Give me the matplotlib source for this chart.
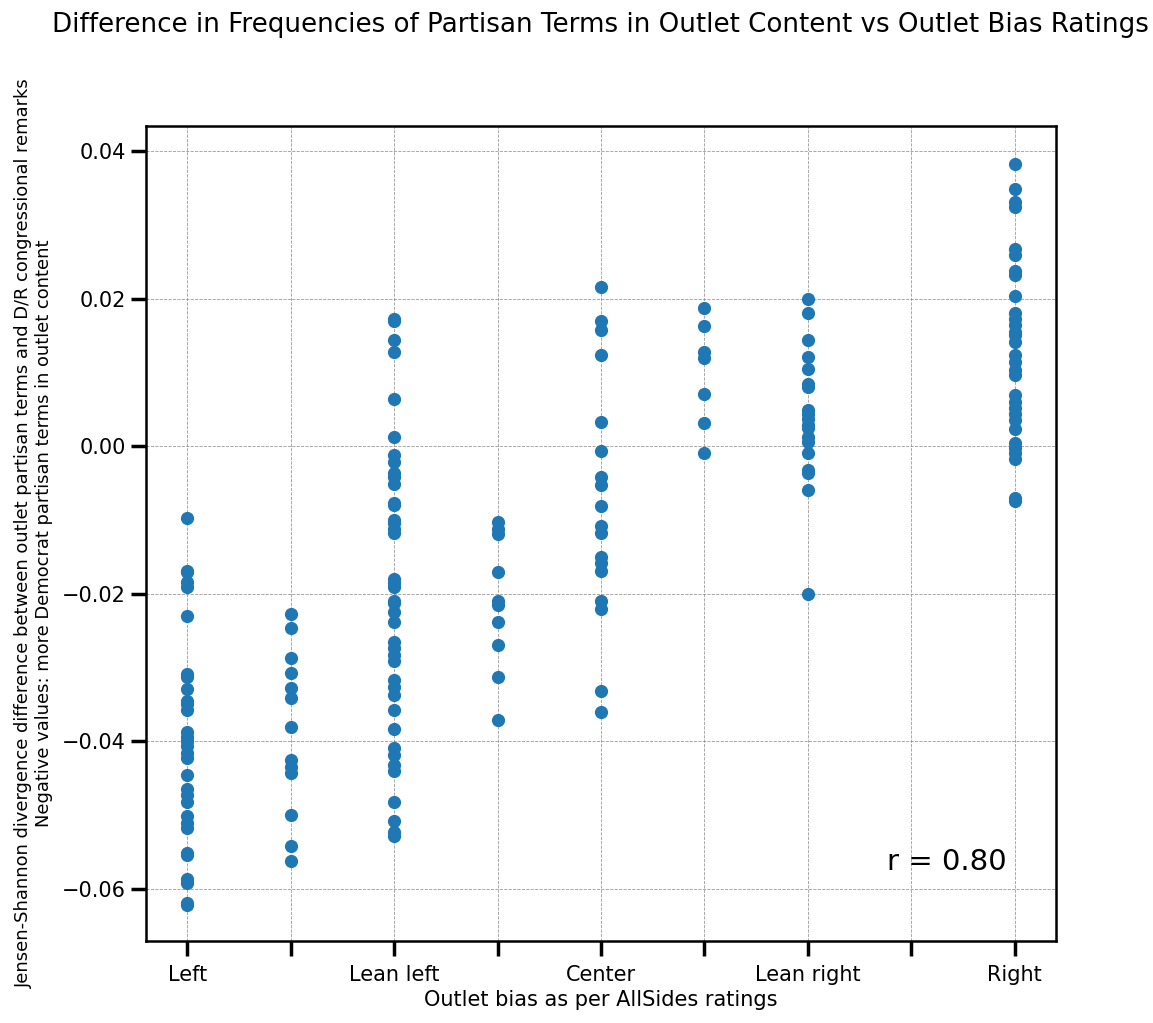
import numpy as np
import matplotlib
matplotlib.use("Agg")
import matplotlib.pyplot as plt

# 各カテゴリの値
left = [-0.0098, -0.0169, -0.0171, -0.0184, -0.0191, -0.0230, -0.0309, -0.0313,
        -0.0329, -0.0346, -0.0350, -0.0358, -0.0387, -0.0394, -0.0400, -0.0407,
        -0.0416, -0.0423, -0.0446, -0.0465, -0.0473, -0.0482, -0.0501, -0.0511,
        -0.0518, -0.0552, -0.0555, -0.0587, -0.0593, -0.0619, -0.0622]
left_mid = [-0.0228, -0.0246, -0.0288, -0.0308, -0.0328, -0.0341, -0.0381, -0.0425,
            -0.0435, -0.0443, -0.0500, -0.0542, -0.0563]
lean_left = [0.0172, 0.0170, 0.0144, 0.0128, 0.0064, 0.0013, -0.0012, -0.0022,
             -0.0037, -0.0042, -0.0051, -0.0077, -0.0080, -0.0100, -0.0104, -0.0112,
             -0.0118, -0.0180, -0.0185, -0.0191, -0.0210, -0.0213, -0.0225, -0.0238,
             -0.0265, -0.0274, -0.0283, -0.0292, -0.0317, -0.0326, -0.0337, -0.0358,
             -0.0383, -0.0410, -0.0419, -0.0432, -0.0440, -0.0482, -0.0509, -0.0523,
             -0.0529]
lean_left_mid = [-0.0103, -0.0112, -0.0119, -0.0171, -0.0210, -0.0215, -0.0239,
                 -0.0270, -0.0313, -0.0371]
center = [0.0216, 0.0169, 0.0157, 0.0124, 0.0033, -0.0007, -0.0042, -0.0053,
          -0.0081, -0.0109, -0.0118, -0.0150, -0.0159, -0.0169, -0.0210, -0.0221,
          -0.0332, -0.0360]
center_right = [0.0187, 0.0163, 0.0128, 0.0119, 0.0071, 0.0032, -0.0009]
lean_right = [0.0200, 0.0181, 0.0144, 0.0121, 0.0104, 0.0084, 0.0080, 0.0049,
              0.0044, 0.0037, 0.0028, 0.0025, 0.0012, 0.0005, -0.0009, -0.0033,
              -0.0037, -0.0059, -0.0200]
right = [0.0383, 0.0348, 0.0331, 0.0324, 0.0267, 0.0259, 0.0238, 0.0232, 0.0203,
         0.0181, 0.0173, 0.0164, 0.0155, 0.0150, 0.0141, 0.0123, 0.0114, 0.0103,
         0.0096, 0.0069, 0.0060, 0.0051, 0.0044, 0.0035, 0.0023, 0.0004, -0.0003,
         -0.0010, -0.0017, -0.0071, -0.0075]

groups = [(0, left), (1, left_mid), (2, lean_left), (3, lean_left_mid),
          (4, center), (5, center_right), (6, lean_right), (8, right)]
tick_labels = ['Left', '', 'Lean left', '', 'Center', '', 'Lean right', '', 'Right']
r_value = 0.80

fig = plt.figure(figsize=(11.53, 10.23), dpi=100)
ax = fig.add_axes([0.1266, 0.0802, 0.7893, 0.7966])

xs = np.concatenate([np.full(len(v), k) for k, v in groups])
ys = np.concatenate([v for k, v in groups])
ax.scatter(xs, ys, s=72, color='#1f77b4', zorder=3)

ax.set_xlim(-0.4, 8.4)
ax.set_ylim(-0.0671, 0.0434)
ax.set_xticks(range(9))
ax.set_xticklabels(tick_labels)
ax.set_yticks([-0.06, -0.04, -0.02, 0.0, 0.02, 0.04])
ax.yaxis.set_major_formatter(matplotlib.ticker.FuncFormatter(
    lambda v, p: f'{v:.2f}'.replace('-', '\u2212')))
ax.tick_params(axis='both', labelsize=15, length=11, width=2.5)
ax.tick_params(axis='x', pad=6)
ax.grid(True, linestyle='--', linewidth=0.6, color='gray', alpha=0.8)
for sp in ax.spines.values():
    sp.set_linewidth(1.8)

ax.set_xlabel('Outlet bias as per AllSides ratings', fontsize=15, labelpad=4)
ax.set_ylabel('Jensen-Shannon divergence difference between outlet partisan terms and D/R congressional remarks\n'
              'Negative values: more Democrat partisan terms in outlet content', fontsize=12.9, labelpad=6)
ax.text(0.814, 0.087, f'r = {r_value:.2f}', transform=ax.transAxes, fontsize=21)
fig.suptitle('Difference in Frequencies of Partisan Terms in Outlet Content vs Outlet Bias Ratings',
             fontsize=18.8, x=0.521, y=0.988)

fig.savefig('out.png', dpi=100)
